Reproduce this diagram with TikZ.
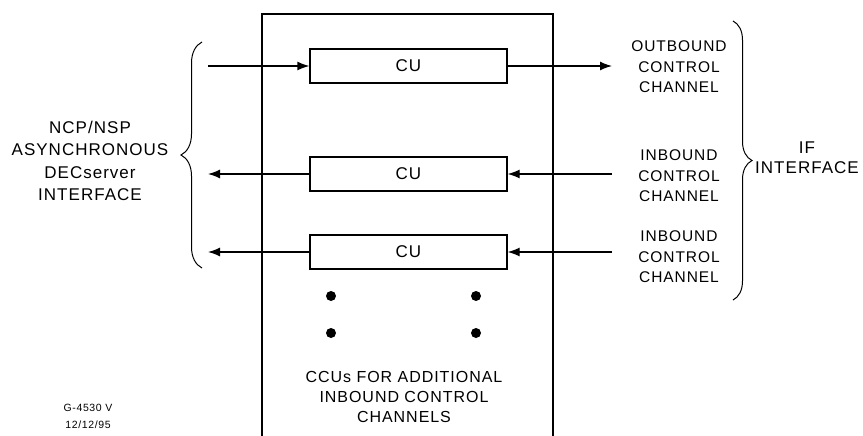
\documentclass[tikz,border=0pt]{standalone}
\usepackage{fontspec}
\setmainfont{Liberation Sans}[LetterSpace=6]
\usetikzlibrary{arrows.meta,decorations.pathreplacing}

\tikzset{
  ccubox/.style={draw, line width=1.3pt, minimum width=197pt, minimum height=34pt,
    inner sep=0pt, font=\fontsize{17}{18}\selectfont},
  lbl/.style={align=center, inner sep=0pt, font=\fontsize{15.5}{20.5}\selectfont},
  sig/.style={line width=1.3pt, -{Latex[length=12pt,width=9pt]}},
  brc/.style={decorate, line width=1pt}
}

\begin{document}
\begin{tikzpicture}[x=1pt,y=-1pt]
    \useasboundingbox (0,0) rectangle (863,436);

    % unit housing
    \draw[line width=1.3pt] (262,436) -- (262,14) -- (553,14) -- (553,436);

    \node[ccubox] (ccuOut) at (408.5,66) {CU};
    \node[ccubox] (ccuInA) at (408.5,174) {CU};
    \node[ccubox] (ccuInB) at (408.5,252) {CU};

    \coordinate (lOut) at (208,66);
    \coordinate (lInA) at (208,174);
    \coordinate (lInB) at (208,252);
    \coordinate (rOut) at (612,66);
    \coordinate (rInA) at (612,174);
    \coordinate (rInB) at (612,252);

    \draw[sig] (lOut) -- (ccuOut);
    \draw[sig] (ccuOut) -- (rOut);
    \draw[sig] (ccuInA) -- (lInA);
    \draw[sig] (rInA) -- (ccuInA);
    \draw[sig] (ccuInB) -- (lInB);
    \draw[sig] (rInB) -- (ccuInB);

    \node[lbl] (outLbl) at (679,67) {OUTBOUND\\CONTROL\\CHANNEL};
    \node[lbl] (inLblA) at (679,176) {INBOUND\\CONTROL\\CHANNEL};
    \node[lbl] (inLblB) at (679,257) {INBOUND\\CONTROL\\CHANNEL};
    \node[lbl, font=\fontsize{17}{20}\selectfont] (ifLbl) at (807,158) {IF\\INTERFACE};
    \node[lbl, font=\fontsize{17}{22.5}\selectfont] (decLbl) at (90,161)
        {NCP/NSP\\ASYNCHRONOUS\\DECserver\\INTERFACE};

    % braces
    \draw[brc, decoration={brace, amplitude=21pt}] (202,268) -- (202,42);
    \draw[brc, decoration={brace, amplitude=19pt}] (733,21) -- (733,300);

    % more units
    \foreach \x in {331,476}
      \foreach \y in {296,333}
        \fill (\x,\y) circle (5pt);

    \node[lbl, font=\fontsize{16}{20}\selectfont] (moreLbl) at (404,397)
        {CCUs FOR ADDITIONAL\\INBOUND CONTROL\\CHANNELS};

    \node[lbl, font=\fontsize{10.5}{17}\selectfont] (figId) at (88,416) {G-4530 V\\12/12/95};
\end{tikzpicture}
\end{document}
